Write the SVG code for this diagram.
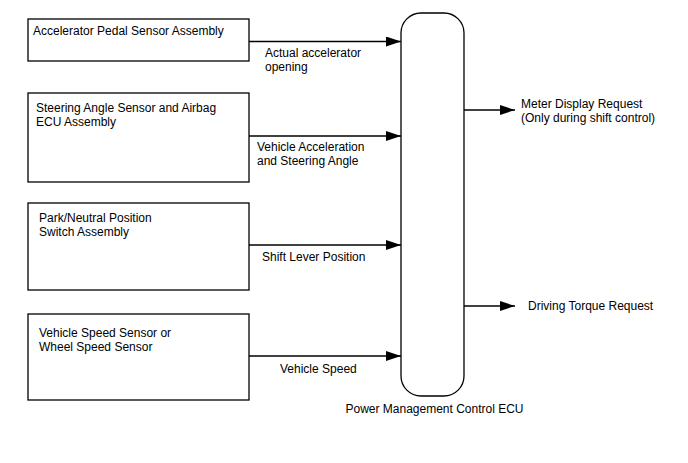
<svg xmlns="http://www.w3.org/2000/svg" width="688" height="463" viewBox="0 0 688 463">
<defs>
<style>
.box{fill:#fff;stroke:#000;stroke-width:1.3}
.ln{fill:none;stroke:#000;stroke-width:1.3}
text{font-family:"Liberation Sans",Arial,sans-serif;font-size:12px;fill:#000}
</style>
<marker id="ah" markerWidth="15" markerHeight="10" refX="15" refY="5" orient="auto" markerUnits="userSpaceOnUse">
<path d="M0,0 L15,5 L0,10 Z" fill="#000"/>
</marker>
</defs>
<rect width="688" height="463" fill="#fff"/>
<g id="n1">
<rect class="box" x="28" y="19" width="221" height="42"/>
<text x="33" y="35">Accelerator Pedal Sensor Assembly</text>
</g>
<g id="n2">
<rect class="box" x="28" y="93" width="221" height="89"/>
<text x="36" y="112">Steering Angle Sensor and Airbag</text>
<text x="36" y="126">ECU Assembly</text>
</g>
<g id="n3">
<rect class="box" x="28" y="203" width="221" height="87"/>
<text x="39" y="222">Park/Neutral Position</text>
<text x="39" y="236">Switch Assembly</text>
</g>
<g id="n4">
<rect class="box" x="28" y="314" width="221" height="86"/>
<text x="39" y="337">Vehicle Speed Sensor or</text>
<text x="39" y="351">Wheel Speed Sensor</text>
</g>
<g id="ecu">
<rect class="box" x="401" y="13" width="63" height="383" rx="20" ry="20"/>
<text x="434.5" y="413" text-anchor="middle">Power Management Control ECU</text>
</g>
<g id="connectors">
<line class="ln" x1="249" y1="41.5" x2="401" y2="41.5" marker-end="url(#ah)"/>
<line class="ln" x1="249" y1="136" x2="401" y2="136" marker-end="url(#ah)"/>
<line class="ln" x1="249" y1="245" x2="401" y2="245" marker-end="url(#ah)"/>
<line class="ln" x1="249" y1="356" x2="401" y2="356" marker-end="url(#ah)"/>
<line class="ln" x1="464" y1="110" x2="515" y2="110" marker-end="url(#ah)"/>
<line class="ln" x1="464" y1="306" x2="515" y2="306" marker-end="url(#ah)"/>
<text x="265" y="57">Actual accelerator</text>
<text x="265" y="71">opening</text>
<text x="257" y="151">Vehicle Acceleration</text>
<text x="257" y="165">and Steering Angle</text>
<text x="262" y="261">Shift Lever Position</text>
<text x="280" y="373">Vehicle Speed</text>
<text x="521" y="108">Meter Display Request</text>
<text x="521" y="122">(Only during shift control)</text>
<text x="528" y="310">Driving Torque Request</text>
</g>
</svg>
